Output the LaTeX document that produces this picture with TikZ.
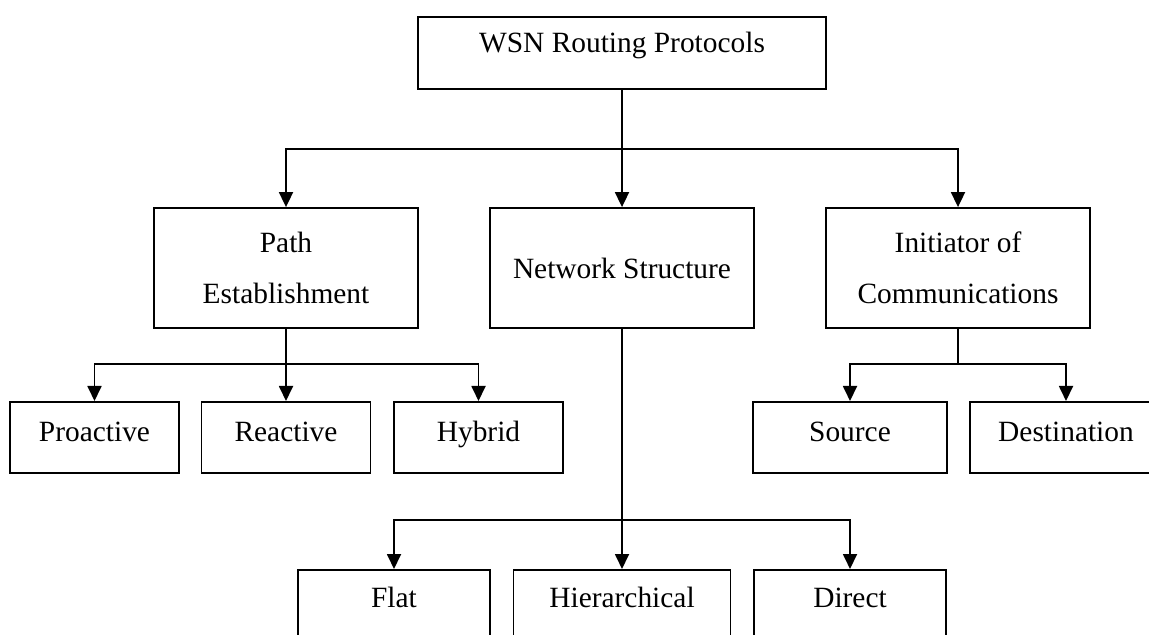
\documentclass[tikz,border=0pt]{standalone}
\usepackage{fontspec}
\setmainfont{Liberation Serif}
\usetikzlibrary{arrows.meta}
\begin{document}
\begin{tikzpicture}[x=0.5pt,y=-0.5pt,
  line width=0.9pt,
  every node/.style={font=\fontsize{14.7pt}{25.5pt}\selectfont},
  box/.style={draw, rectangle, inner sep=0pt, line width=0.9pt},
  arr/.style={-{Triangle[length=7.5pt,width=7pt]}}]
\clip (0,0) rectangle (1149,635);
% level 0
\node[box, anchor=north, minimum width=204pt, text height=18pt, text depth=18pt] (root) at (622,16) {WSN Routing Protocols};
% level 1
\node[box, align=center, minimum width=132pt, minimum height=60pt] (path) at (286,268) {Path\\Establishment};
\node[box, align=center, minimum width=132pt, minimum height=60pt] (net) at (622,268) {Network Structure};
\node[box, align=center, minimum width=132pt, minimum height=60pt] (init) at (958,268) {Initiator of\\Communications};
% level 2
\node[box, anchor=north, minimum width=84.5pt, text height=20pt, text depth=15.5pt] (pro) at (94.5,401) {Proactive};
\node[box, anchor=north, minimum width=84.5pt, text height=20pt, text depth=15.5pt] (rea) at (286,401) {Reactive};
\node[box, anchor=north, minimum width=84.5pt, text height=20pt, text depth=15.5pt] (hyb) at (478.5,401) {Hybrid};
\node[box, anchor=north, minimum width=97pt, text height=20pt, text depth=15.5pt] (src) at (850,401) {Source};
\node[box, anchor=north, minimum width=96pt, text height=20pt, text depth=15.5pt] (dst) at (1066,401) {Destination};
\node[box, anchor=north, minimum width=96pt, text height=19pt, text depth=40pt] (flat) at (394,569) {Flat};
\node[box, anchor=north, minimum width=108.5pt, text height=19pt, text depth=40pt] (hier) at (622,569) {Hierarchical};
\node[box, anchor=north, minimum width=96pt, text height=19pt, text depth=40pt] (dir) at (850,569) {Direct};
% junctions
\coordinate (j1) at (622,149);
\coordinate (j2) at (286,364);
\coordinate (j3) at (958,364);
\coordinate (j4) at (622,520);
% connectors
\draw[arr] (root.south) -- (net.north);
\draw[arr] (j1) -| (path.north);
\draw[arr] (j1) -| (init.north);
\draw[arr] (path.south) -- (rea.north);
\draw[arr] (j2) -| (pro.north);
\draw[arr] (j2) -| (hyb.north);
\draw (init.south) -- (j3);
\draw[arr] (j3) -| (src.north);
\draw[arr] (j3) -| (dst.north);
\draw[arr] (net.south) -- (hier.north);
\draw[arr] (j4) -| (flat.north);
\draw[arr] (j4) -| (dir.north);
\end{tikzpicture}
\end{document}
